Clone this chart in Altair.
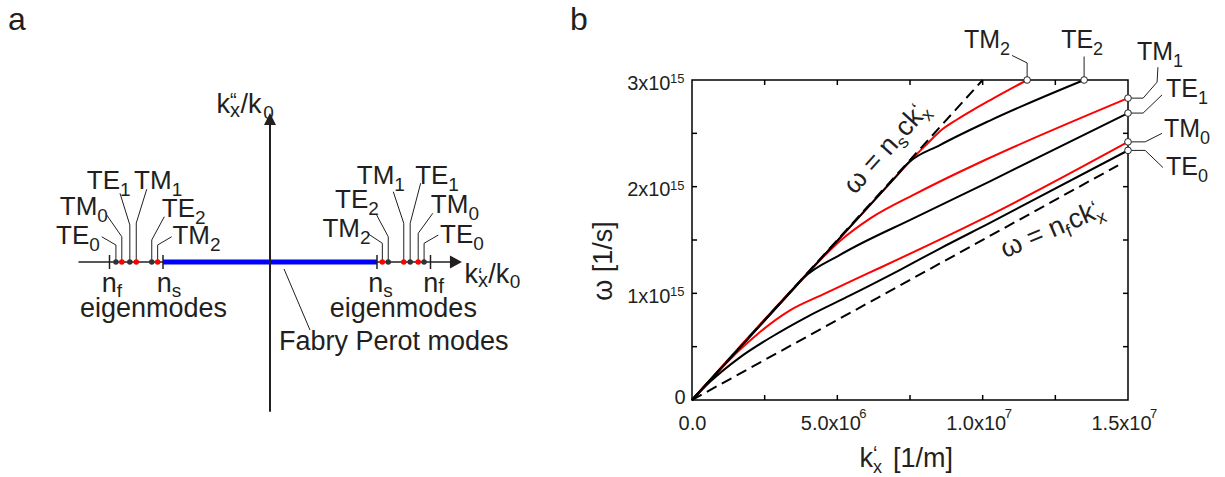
import altair as alt
import pandas as pd

FONT = "Liberation Sans"
INK = "#231f20"
RED = "#ff0000"
BLUE = "#0000ff"

# ---------------------------------------------------------------------------
# Panel a: schematic of the k'x/k0 axis (units of k0)
# ---------------------------------------------------------------------------
n_s = 1.0
n_f = 1.5
mode_names = ["TE0", "TM0", "TE1", "TM1", "TE2", "TM2"]
mode_index = [1.44, 1.385, 1.31, 1.25, 1.105, 1.05]

real_axis_u = [-1.79, 1.70]
imag_axis_v = [-1.40, 1.30]
arrow_right_u = 1.738
arrow_up_v = 1.336

# mode labels: left group then right group
a_lab_mode = ["TE0", "TM0", "TE1", "TM1", "TE2", "TM2",
              "TM2", "TE2", "TM1", "TE1", "TM0", "TE0"]
a_lab_side = [-1, -1, -1, -1, -1, -1, 1, 1, 1, 1, 1, 1]
a_lab_u = [-1.689, -1.614, -1.402, -0.919, -0.701, -0.561,
           0.841, 0.919, 1.162, 1.667, 1.854, 1.900]
a_lab_v = [0.168, 0.439, 0.679, 0.679, 0.424, 0.165,
           0.236, 0.502, 0.729, 0.729, 0.461, 0.175]
a_bend_v = [0.159, 0.236, 0.346, 0.364, 0.206, 0.159,
            0.175, 0.236, 0.362, 0.362, 0.268, 0.175]
a_end_u = [-1.573, -1.526, -1.402, -1.152, -0.988, -0.919,
           0.919, 0.997, 1.152, 1.408, 1.521, 1.573]
a_end_v = [0.236, 0.439, 0.642, 0.680, 0.423, 0.236,
           0.262, 0.439, 0.657, 0.736, 0.455, 0.252]

fp_leader_u = [0.131, 0.374]
fp_leader_v = [-0.065, -0.636]

# ---------------------------------------------------------------------------
# Panel b: dispersion curves, k'x in 1e6 1/m, omega in 1e15 1/s
# ---------------------------------------------------------------------------
te0_k = [0, 0.62, 1.65, 2.79, 3.96, 5.44, 7.16, 8.53, 10.25, 15.0]
te0_w = [0, 0.17, 0.40, 0.60, 0.78, 0.98, 1.22, 1.42, 1.66, 2.34]
tm0_k = [0, 1.0, 1.6, 2.24, 3.37, 4.51, 5.44, 6.47, 9.22, 10.08, 15.0]
tm0_w = [0, 0.295, 0.46, 0.615, 0.84, 0.99, 1.11, 1.24, 1.595, 1.71, 2.42]
te1_k = [0, 3.5, 3.82, 5.09, 7.67, 10.25, 15.0]
te1_w = [0, 1.045, 1.14, 1.36, 1.71, 2.05, 2.69]
tm1_k = [0, 3.7, 4.4, 5.09, 6.12, 7.67, 9.22, 10.08, 15.0]
tm1_w = [0, 1.11, 1.31, 1.49, 1.70, 1.93, 2.14, 2.25, 2.83]
te2_k = [0, 7.0, 7.43, 8.53, 10.25, 13.49]
te2_w = [0, 2.09, 2.22, 2.39, 2.62, 3.0]
tm2_k = [0, 7.0, 7.43, 8.12, 8.53, 9.12, 9.67, 10.25, 11.53]
tm2_w = [0, 2.09, 2.22, 2.41, 2.52, 2.63, 2.72, 2.81, 3.0]

ns_line_k = [0, 10.0]
ns_line_w = [0, 3.0]
nf_line_k = [0, 14.66]
nf_line_w = [0, 2.2]

# end-point labels: leader bends after the curve end, label anchor
b_lab_mode = ["TM2", "TE2", "TM1", "TE1", "TM0", "TE0"]
b_lead_k = [[11.53, 11.01], [13.49], [15.52, 16.0, 16.03], [15.52, 16.17],
            [15.59, 16.17], [15.59, 16.20]]
b_lead_w = [[3.16, 3.23], [3.22], [2.83, 2.98, 3.12], [2.69, 2.86],
            [2.42, 2.50], [2.34, 2.18]]
b_lab_k = [10.60, 13.80, 16.55, 17.41, 17.48, 17.41]
b_lab_w = [3.30, 3.30, 3.19, 2.84, 2.47, 2.11]

x_major = [0, 5, 10, 15]
x_major_text = ["0.0", "5.0x10", "1.0x10", "1.5x10"]
x_major_exp = ["", "6", "7", "7"]
y_major = [0, 1, 2, 3]
y_major_text = ["0", "1x10", "2x10", "3x10"]
y_major_exp = ["", "15", "15", "15"]
x_inner_ticks = [2.5, 5, 7.5, 10, 12.5]
y_inner_ticks = [0.5, 1, 1.5, 2, 2.5]


def label_expr(values, texts):
    expr = "''"
    for v, t in reversed(list(zip(values, texts))):
        expr = f"datum.value == {v} ? '{t}' : ({expr})"
    return expr


# ---------------- scales ----------------
ua = alt.Scale(domain=[-2, 2], range=[-636, -208], nice=False, zero=False)
va = alt.Scale(domain=[-2, 2], range=[396, -32], nice=False, zero=False)
xs = alt.Scale(domain=[0, 15], nice=False, zero=False)
ys = alt.Scale(domain=[0, 3], nice=False, zero=False)

x_axis = alt.Axis(values=x_major, labelExpr=label_expr(x_major, x_major_text),
                  ticks=False, tickSize=0, domain=False, grid=False, title=None,
                  labelFont=FONT, labelFontSize=20, labelColor=INK,
                  labelPadding=13, labelFlush=False, labelOverlap=False,
                  labelOffset={"condition": {"test": "datum.value == 0", "value": 0},
                               "value": -7})
y_axis = alt.Axis(values=y_major, labelExpr=label_expr(y_major, y_major_text),
                  ticks=False, tickSize=0, domain=False, grid=False, title=None,
                  labelFont=FONT, labelFontSize=20, labelColor=INK,
                  labelFlush=False, labelOverlap=False,
                  labelPadding={"condition": {"test": "datum.value == 0", "value": 7},
                                "value": 22},
                  labelOffset={"condition": {"test": "datum.value == 0", "value": -3},
                               "value": 3})


def ax(f):
    return alt.X(f, type="quantitative", scale=ua, axis=None)


def ay(f):
    return alt.Y(f, type="quantitative", scale=va, axis=None)


def ayd(v):
    return alt.YDatum(v, type="quantitative", scale=va, axis=None)


def bx(f):
    return alt.X(f, type="quantitative", scale=xs, axis=x_axis)


def by(f):
    return alt.Y(f, type="quantitative", scale=ys, axis=y_axis)


def bxd(v):
    return alt.XDatum(v, type="quantitative", scale=xs, axis=x_axis)


def byd(v):
    return alt.YDatum(v, type="quantitative", scale=ys, axis=y_axis)


def a_text(u, v, t, **kw):
    props = dict(font=FONT, color=INK, fontSize=27, align="left", baseline="alphabetic")
    props.update(kw)
    return alt.Chart(pd.DataFrame({"u": [u], "v": [v], "t": [t]})).mark_text(**props).encode(
        x=ax("u"), y=ay("v"), text="t:N")


def b_text(k, w, t, **kw):
    props = dict(font=FONT, color=INK, fontSize=27, align="left", baseline="alphabetic")
    props.update(kw)
    return alt.Chart(pd.DataFrame({"k": [k], "w": [w], "t": [t]})).mark_text(**props).encode(
        x=bx("k"), y=by("w"), text="t:N")


# ======================= panel a layers =======================
pos = dict(zip(mode_names, mode_index))

real_axis = alt.Chart(pd.DataFrame({"u1": [real_axis_u[0]], "u2": [real_axis_u[1]], "v": [0.0]})).mark_rule(
    color=INK, strokeWidth=1.5).encode(x=ax("u1"), x2=alt.X2("u2"), y=ay("v"))
fp_band = alt.Chart(pd.DataFrame({"u1": [-n_s], "u2": [n_s], "v": [0.0]})).mark_rule(
    color=BLUE, strokeWidth=5).encode(x=ax("u1"), x2=alt.X2("u2"), y=ay("v"))
imag_axis = alt.Chart(pd.DataFrame({"u": [0.0], "v1": [imag_axis_v[0]], "v2": [imag_axis_v[1]]})).mark_rule(
    color=INK, strokeWidth=2).encode(x=ax("u"), y=ay("v1"), y2=alt.Y2("v2"))
arrow_r = alt.Chart(pd.DataFrame({"u": [arrow_right_u], "v": [0.0]})).mark_point(
    shape="M-1,-1.1L1,0L-1,1.1Z", filled=True, size=144, color=INK, opacity=1, strokeWidth=0
).encode(x=ax("u"), y=ay("v"))
arrow_u = alt.Chart(pd.DataFrame({"u": [0.0], "v": [arrow_up_v]})).mark_point(
    shape="M-1,1L0,-1L1,1Z", filled=True, size=144, color=INK, opacity=1, strokeWidth=0
).encode(x=ax("u"), y=ay("v"))
index_ticks = alt.Chart(pd.DataFrame({"u": [-n_f, -n_s, n_s, n_f]})).mark_rule(
    color=INK, strokeWidth=1.5, yOffset=-7, y2Offset=7).encode(
    x=ax("u"), y=ayd(0), y2=alt.datum(0))

lead_rows = []
for j, (m, s, bv, eu, ev) in enumerate(zip(a_lab_mode, a_lab_side, a_bend_v, a_end_u, a_end_v)):
    p = s * pos[m]
    for i, (u, v) in enumerate([(p, 0.0), (p, bv), (eu, ev)]):
        lead_rows.append({"id": j, "i": i, "u": u, "v": v})
a_leaders = alt.Chart(pd.DataFrame(lead_rows)).mark_line(color=INK, strokeWidth=1).encode(
    x=ax("u"), y=ay("v"), detail="id:N", order="i:Q")
fp_leader = alt.Chart(pd.DataFrame({"u": fp_leader_u, "v": fp_leader_v})).mark_line(
    color=INK, strokeWidth=1).encode(x=ax("u"), y=ay("v"))

dots = pd.DataFrame([{"u": s * p, "v": 0.0, "pol": m[:2]}
                     for m, p in zip(mode_names, mode_index) for s in (-1, 1)])
te_dots = alt.Chart(dots[dots.pol == "TE"]).mark_circle(size=30, color="#333333", opacity=1).encode(
    x=ax("u"), y=ay("v"))
tm_dots = alt.Chart(dots[dots.pol == "TM"]).mark_circle(size=30, color=RED, opacity=1).encode(
    x=ax("u"), y=ay("v"))

a_lab = pd.DataFrame({"u": a_lab_u, "v": a_lab_v,
                      "main": [m[:2] for m in a_lab_mode], "sub": [m[2] for m in a_lab_mode]})
a_lab_main = alt.Chart(a_lab).mark_text(font=FONT, color=INK, fontSize=26, align="right",
                                        baseline="alphabetic").encode(x=ax("u"), y=ay("v"), text="main:N")
a_lab_sub = alt.Chart(a_lab).mark_text(font=FONT, color=INK, fontSize=19, align="left",
                                       baseline="alphabetic", dy=7).encode(x=ax("u"), y=ay("v"), text="sub:N")

a_texts = [
    a_text(-2.449, 2.168, "a", fontSize=32),
    a_text(-1.433, -0.278, "n", align="right"), a_text(-1.433, -0.278, "f", fontSize=19, dy=5),
    a_text(-0.919, -0.278, "n", align="right"), a_text(-0.919, -0.278, "s", fontSize=19, dy=5),
    a_text(1.058, -0.278, "n", align="right"), a_text(1.058, -0.278, "s", fontSize=19, dy=5),
    a_text(1.573, -0.278, "n", align="right"), a_text(1.573, -0.278, "f", fontSize=21, dy=1),
    a_text(-1.089, -0.514, "eigenmodes", align="center"),
    a_text(1.246, -0.517, "eigenmodes", align="center"),
    a_text(1.156, -0.822, "Fabry Perot modes", align="center"),
    # k''x/k0 on the imaginary axis
    a_text(-0.374, 1.390, "k", align="right"),
    a_text(-0.374, 1.390, "x", fontSize=20, dy=4),
    a_text(-0.374, 1.390, "\u201c", fontSize=20, dy=-6),
    a_text(-0.275, 1.390, "/k"),
    a_text(-0.062, 1.390, "0", fontSize=19, dy=6),
    # k'x/k0 on the real axis
    a_text(1.944, -0.196, "k", align="right"),
    a_text(1.944, -0.196, "x", fontSize=20, dy=4),
    a_text(1.944, -0.196, "\u2018", fontSize=20, dy=-1),
    a_text(2.04, -0.196, "/k"),
    a_text(2.24, -0.196, "0", fontSize=19, dy=5),
]

panel_a = alt.layer(real_axis, fp_band, imag_axis, arrow_r, arrow_u, index_ticks,
                    a_leaders, fp_leader, te_dots, tm_dots, a_lab_main, a_lab_sub, *a_texts)

# ======================= panel b layers =======================
curve_sets = [("TE0", te0_k, te0_w), ("TM0", tm0_k, tm0_w), ("TE1", te1_k, te1_w),
              ("TM1", tm1_k, tm1_w), ("TE2", te2_k, te2_w), ("TM2", tm2_k, tm2_w)]
curves = pd.DataFrame([{"mode": m, "i": i, "k": k, "w": w}
                       for m, ks, ws in curve_sets for i, (k, w) in enumerate(zip(ks, ws))])


def curve_layer(modes, color):
    return alt.Chart(curves[curves["mode"].isin(modes)]).mark_line(
        color=color, strokeWidth=2, interpolate="monotone").encode(
        x=bx("k"), y=by("w"), detail="mode:N", order="i:Q")


red_curves = curve_layer(["TM0", "TM1", "TM2"], RED)
black_curves = curve_layer(["TE0", "TE1", "TE2"], "#000000")

light = pd.DataFrame(
    [{"line": "ns", "i": i, "k": k, "w": w} for i, (k, w) in enumerate(zip(ns_line_k, ns_line_w))] +
    [{"line": "nf", "i": i, "k": k, "w": w} for i, (k, w) in enumerate(zip(nf_line_k, nf_line_w))])
light_lines = alt.Chart(light).mark_line(color="#000000", strokeWidth=2, strokeDash=[11, 6]).encode(
    x=bx("k"), y=by("w"), detail="line:N", order="i:Q")

# inward frame ticks
tick_props = dict(color="#000000", strokeWidth=1.5)
xt = pd.DataFrame({"p": x_inner_ticks})
yt = pd.DataFrame({"p": y_inner_ticks})
ticks_bottom = alt.Chart(xt).mark_rule(y2Offset=-5, **tick_props).encode(
    x=bx("p"), y=byd(0), y2=alt.datum(0))
ticks_top = alt.Chart(xt).mark_rule(y2Offset=5, **tick_props).encode(
    x=bx("p"), y=byd(3), y2=alt.datum(3))
ticks_left = alt.Chart(yt).mark_rule(x2Offset=5, **tick_props).encode(
    y=by("p"), x=bxd(0), x2=alt.datum(0))
ticks_right = alt.Chart(yt).mark_rule(x2Offset=-5, **tick_props).encode(
    y=by("p"), x=bxd(15), x2=alt.datum(15))

# exponents of the tick labels
x_exp = pd.DataFrame({"p": x_major, "t": x_major_exp})
x_exp = x_exp[x_exp.t != ""]
y_exp = pd.DataFrame({"p": y_major, "t": y_major_exp})
y_exp = y_exp[y_exp.t != ""]
x_exp_layer = alt.Chart(x_exp).mark_text(font=FONT, color=INK, fontSize=13, align="left",
                                         baseline="alphabetic", dx=22, dy=18).encode(
    x=bx("p"), y=byd(0), text="t:N")
y_exp_layer = alt.Chart(y_exp).mark_text(font=FONT, color=INK, fontSize=13, align="left",
                                         baseline="alphabetic", dx=-22, dy=3).encode(
    x=bxd(0), y=by("p"), text="t:N")

# end-point markers, leaders and labels
ends = {m: (ks[-1], ws[-1]) for m, ks, ws in curve_sets}
lead_b = []
for j, (m, lk, lw) in enumerate(zip(b_lab_mode, b_lead_k, b_lead_w)):
    pts = [ends[m]] + list(zip(lk, lw))
    for i, (k, w) in enumerate(pts):
        lead_b.append({"id": j, "i": i, "k": k, "w": w})
b_leaders = alt.Chart(pd.DataFrame(lead_b)).mark_line(color=INK, strokeWidth=1).encode(
    x=bx("k"), y=by("w"), detail="id:N", order="i:Q")
end_df = pd.DataFrame({"k": [ends[m][0] for m in b_lab_mode], "w": [ends[m][1] for m in b_lab_mode]})
end_marks = alt.Chart(end_df).mark_point(shape="circle", filled=True, fill="white", stroke=INK,
                                         strokeWidth=1, size=45, opacity=1).encode(x=bx("k"), y=by("w"))
b_lab = pd.DataFrame({"k": b_lab_k, "w": b_lab_w,
                      "main": [m[:2] for m in b_lab_mode], "sub": [m[2] for m in b_lab_mode]})
b_lab_main = alt.Chart(b_lab).mark_text(font=FONT, color=INK, fontSize=25, align="right",
                                        baseline="alphabetic").encode(x=bx("k"), y=by("w"), text="main:N")
b_lab_sub = alt.Chart(b_lab).mark_text(font=FONT, color=INK, fontSize=18, align="left",
                                       baseline="alphabetic", dy=7).encode(x=bx("k"), y=by("w"), text="sub:N")


def slanted(k, w, angle, sub, sub_w):
    # "ω = n_i c k'_x" written along a light line
    head = 67
    return [
        b_text(k, w, "\u03c9 = n", angle=angle),
        b_text(k, w, sub, angle=angle, fontSize=18, dx=head, dy=6),
        b_text(k, w, "ck", angle=angle, dx=head + sub_w),
        b_text(k, w, "\u2018", angle=angle, fontSize=20, dx=head + sub_w + 27, dy=-5),
        b_text(k, w, "x", angle=angle, fontSize=18, dx=head + sub_w + 27, dy=6),
    ]


b_texts = [
    b_text(-4.197, 3.469, "b", fontSize=32),
    b_text(-3.028, 1.303, "\u03c9 [1/s]", angle=270, align="center", baseline="middle"),
    b_text(6.227, -0.628, "k", align="right"),
    b_text(6.227, -0.628, "x", fontSize=18, dy=6),
    b_text(6.227, -0.628, "\u2018", fontSize=20, dy=-7),
    b_text(6.227, -0.628, "[1/m]", dx=20),
] + slanted(5.60, 1.92, 312, "s", 10) + slanted(10.768, 1.33, 337, "f", 6)

panel_b = alt.layer(red_curves, black_curves, light_lines,
                    ticks_bottom, ticks_top, ticks_left, ticks_right,
                    x_exp_layer, y_exp_layer, b_leaders, end_marks,
                    b_lab_main, b_lab_sub, *b_texts)

chart = alt.layer(panel_a, panel_b).resolve_scale(
    x="independent", y="independent"
).properties(
    width=436, height=320,
    padding={"left": 692, "top": 80, "right": 97, "bottom": 77},
    autosize=alt.AutoSizeParams(type="none"),
    background="white",
).configure_view(stroke="#000000", strokeWidth=1.5)

chart.save("out.html", embed_options={"renderer": "svg", "actions": False})
